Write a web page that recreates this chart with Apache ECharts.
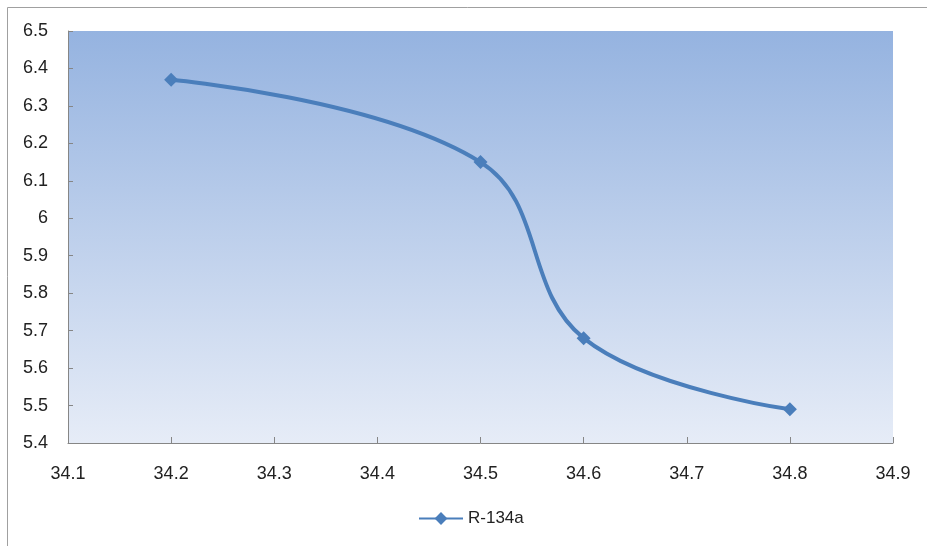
<!DOCTYPE html>
<html>
<head>
<meta charset="utf-8">
<script src="https://cdn.jsdelivr.net/npm/echarts@6/dist/echarts.min.js"></script>
<style>html,body{margin:0;padding:0;background:#fff}#c{width:927px;height:546px}</style>
</head>
<body>
<div id="c"></div>
<script>
var seriesName = 'R-134a';
var xValues = [34.2, 34.5, 34.6, 34.8];
var yValues = [6.37, 6.15, 5.68, 5.49];
var chart = echarts.init(document.getElementById('c'));
var font = 'Liberation Sans, Arial, sans-serif';
chart.setOption({
  animation: false,
  backgroundColor: '#fff',
  graphic: [{
    type: 'polyline',
    shape: { points: [[7.5, 546], [7.5, 7.5], [927, 7.5]] },
    style: { stroke: '#a0a0a0', lineWidth: 1, fill: null },
    silent: true
  }],
  grid: {
    left: 68, right: 34, top: 31, bottom: 103,
    show: true,
    borderWidth: 0,
    backgroundColor: {
      type: 'linear', x: 0, y: 0, x2: 0, y2: 1,
      colorStops: [{ offset: 0, color: '#95b3e0' }, { offset: 1, color: '#e6ecf7' }]
    }
  },
  legend: {
    bottom: 14, left: 413,
    itemWidth: 44, itemHeight: 16, itemGap: 4,
    textStyle: { fontFamily: font, fontSize: 17, color: '#222' },
    data: [seriesName]
  },
  xAxis: {
    type: 'value', min: 34.1, max: 34.9, interval: 0.1,
    axisLine: { show: true, lineStyle: { color: '#868686', width: 1 } },
    axisTick: { show: true, inside: true, length: 6, lineStyle: { color: '#868686' } },
    splitLine: { show: false },
    axisLabel: { margin: 22, fontFamily: font, fontSize: 18, color: '#222',
      formatter: function (v) { return (+v.toFixed(1)).toString(); } }
  },
  yAxis: {
    type: 'value', min: 5.4, max: 6.5, interval: 0.1,
    axisLine: { show: true, lineStyle: { color: '#868686', width: 1 } },
    axisTick: { show: true, inside: true, length: 5, lineStyle: { color: '#868686' } },
    splitLine: { show: false },
    axisLabel: { margin: 20, fontFamily: font, fontSize: 18, color: '#222',
      formatter: function (v) { return (+v.toFixed(1)).toString(); } }
  },
  series: [{
    name: seriesName,
    type: 'line',
    smooth: 0.4,
    data: xValues.map(function (x, i) { return [x, yValues[i]]; }),
    symbol: 'diamond',
    symbolSize: 14,
    lineStyle: { color: '#4a7ebb', width: 4 },
    itemStyle: { color: '#4a7ebb' }
  }]
});
</script>
</body>
</html>
